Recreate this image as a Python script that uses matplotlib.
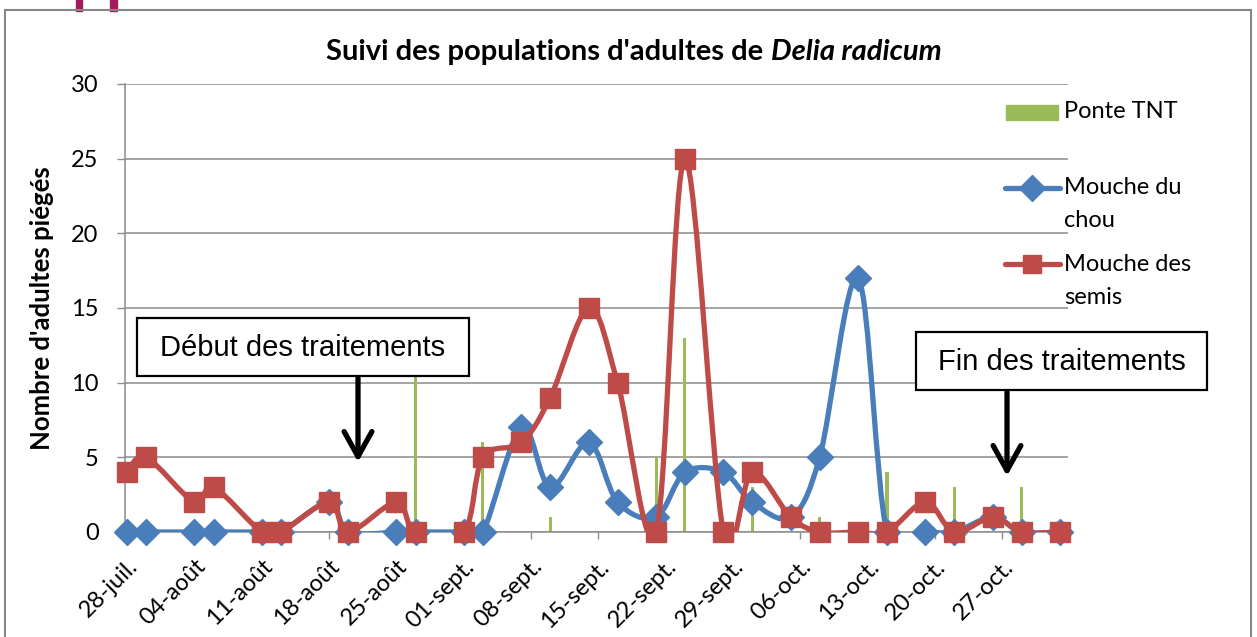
import datetime as dt
import numpy as np
import matplotlib
matplotlib.use("Agg")
import matplotlib.pyplot as plt
import matplotlib.dates as mdates
from matplotlib.path import Path
from matplotlib.patches import PathPatch, Rectangle
from matplotlib.lines import Line2D

W, H = 1257, 637

# relevés (dates de piégeage)
sample_dates = ["2014-07-28", "2014-07-30", "2014-08-04", "2014-08-06", "2014-08-11",
                "2014-08-13", "2014-08-18", "2014-08-20", "2014-08-25", "2014-08-27",
                "2014-09-01", "2014-09-03", "2014-09-07", "2014-09-10", "2014-09-14",
                "2014-09-17", "2014-09-21", "2014-09-24", "2014-09-28", "2014-10-01",
                "2014-10-05", "2014-10-08", "2014-10-12", "2014-10-15", "2014-10-19",
                "2014-10-22", "2014-10-26", "2014-10-29", "2014-11-02"]
mouche_chou = [0, 0, 0, 0, 0, 0, 2, 0, 0, 0, 0, 0, 7, 3, 6, 2, 1, 4, 4, 2,
               1, 5, 17, 0, 0, 0, 1, 0, 0]
mouche_semis = [4, 5, 2, 3, 0, 0, 2, 0, 2, 0, 0, 5, 6, 9, 15, 10, 0, 25, 0, 4,
                1, 0, 0, 0, 2, 0, 1, 0, 0]

ponte_dates = ["2014-08-27", "2014-09-03", "2014-09-10", "2014-09-21", "2014-09-24",
               "2014-10-01", "2014-10-08", "2014-10-15", "2014-10-22", "2014-10-29"]
ponte_tnt = [12, 6, 1, 5, 13, 3, 1, 4, 3, 3]

tick_labels = ["28-juil.", "04-août", "11-août", "18-août", "25-août", "01-sept.",
               "08-sept.", "15-sept.", "22-sept.", "29-sept.", "06-oct.", "13-oct.",
               "20-oct.", "27-oct."]

BLUE = "#4A7EBB"
RED = "#BE4B48"
GREEN = "#9BBB59"
GRID = "#8C8C8C"
FONT = "Lato"
BOXFONT = "Liberation Sans"
FS = 17


def fp(x, y):
    # pixel -> figure fraction
    return (x / W, 1 - y / H)


def smooth_path(x, y):
    # courbe lissée façon Excel (Bezier type Catmull-Rom)
    pts = np.column_stack([x, y]).astype(float)
    n = len(pts)
    verts = [pts[0]]
    codes = [Path.MOVETO]
    for i in range(n - 1):
        p0 = pts[max(i - 1, 0)]
        p1 = pts[i]
        p2 = pts[i + 1]
        p3 = pts[min(i + 2, n - 1)]
        verts += [p1 + (p2 - p0) / 6, p2 - (p3 - p1) / 6, p2]
        codes += [Path.CURVE4] * 3
    return Path(verts, codes)


xd = mdates.date2num([dt.date.fromisoformat(d) for d in sample_dates])
xp = mdates.date2num([dt.date.fromisoformat(d) for d in ponte_dates])
start = mdates.date2num(dt.date(2014, 7, 28))

fig = plt.figure(figsize=(W / 100, H / 100), dpi=100)
ax = fig.add_axes([125 / W, 1 - 532 / H, (1068 - 125) / W, (532 - 84) / H])

ppd = 9.62  # pixels par jour
x0 = start - 2 / ppd
ax.set_xlim(x0, x0 + (1068 - 125) / ppd)
ax.set_ylim(0, 30)

ax.bar(xp, ponte_tnt, width=0.32, color=GREEN, zorder=2)

ax.add_patch(PathPatch(smooth_path(xd, mouche_chou), fill=False, edgecolor=BLUE,
                       linewidth=3.8, capstyle="round", joinstyle="round",
                       zorder=3))
ax.plot(xd, mouche_chou, linestyle="none", marker="D", markersize=13.5,
        color=BLUE, zorder=4, clip_on=False)
ax.add_patch(PathPatch(smooth_path(xd, mouche_semis), fill=False, edgecolor=RED,
                       linewidth=3.8, capstyle="round", joinstyle="round",
                       zorder=5))
ax.plot(xd, mouche_semis, linestyle="none", marker="s", markersize=14.5,
        color=RED, zorder=6, clip_on=False)

ax.set_yticks(range(0, 31, 5))
ax.yaxis.grid(True, color=GRID, linewidth=1.1)
ax.set_axisbelow(True)
ax.set_xticks(start + 7 * np.arange(len(tick_labels)))
ax.set_xticklabels(tick_labels, rotation=45, ha="right", rotation_mode="anchor",
                   fontsize=FS, family=FONT)
for lab in ax.get_yticklabels():
    lab.set_fontsize(FS)
    lab.set_family(FONT)
ax.tick_params(axis="y", length=6, width=1, color=GRID, pad=13)
ax.tick_params(axis="x", length=5, width=1, color=GRID, pad=12)
for s in ("top", "right"):
    ax.spines[s].set_visible(False)
for s in ("left", "bottom"):
    ax.spines[s].set_color(GRID)
    ax.spines[s].set_linewidth(1.1)

ax.set_ylabel("Nombre d'adultes piégés", fontsize=18.5, fontweight="bold",
              family=FONT, labelpad=12)

# titre (partie en italique)
renderer = fig.canvas.get_renderer()
t1 = fig.text(0, 0, "Suivi des populations d'adultes de ", fontsize=21,
              fontweight="bold", family=FONT, va="baseline")
t2 = fig.text(0, 0, "Delia radicum", fontsize=21, fontweight="bold",
              style="italic", family=FONT, va="baseline")
w1 = t1.get_window_extent(renderer).width
w2 = t2.get_window_extent(renderer).width
xt = 634 - (w1 + w2) / 2
t1.set_position(fp(xt, 60))
t2.set_position(fp(xt + w1, 60))

# légende
fig.add_artist(Rectangle(fp(1006, 120), 52 / W, 15 / H, color=GREEN,
                         transform=fig.transFigure))
fig.add_artist(Line2D([1005 / W, 1060 / W], [fp(0, 188)[1]] * 2, color=BLUE,
                      linewidth=3.8, solid_capstyle="round",
                      transform=fig.transFigure))
fig.add_artist(Line2D([1032 / W], [fp(0, 188)[1]], marker="D", markersize=13.5,
                      color=BLUE, transform=fig.transFigure))
fig.add_artist(Line2D([1005 / W, 1060 / W], [fp(0, 264)[1]] * 2, color=RED,
                      linewidth=3.8, solid_capstyle="round",
                      transform=fig.transFigure))
fig.add_artist(Line2D([1032 / W], [fp(0, 264)[1]], marker="s", markersize=13.5,
                      color=RED, transform=fig.transFigure))
for txt, yy in [("Ponte TNT", 112), ("Mouche du", 188), ("chou", 221),
                ("Mouche des", 265), ("semis", 297)]:
    fig.text(*fp(1064, yy), txt, fontsize=FS, family=FONT, va="center")

# encadrés et flèches
for (bx0, by0, bx1, by1, label, ax_x, tip) in [
        (137, 318, 469, 376, "Début des traitements", 358, 462),
        (916, 332, 1207, 390, "Fin des traitements", 1007, 476)]:
    fig.add_artist(Rectangle(fp(bx0, by1), (bx1 - bx0) / W, (by1 - by0) / H,
                             facecolor="white", edgecolor="black", linewidth=1.6,
                             transform=fig.transFigure, zorder=10))
    fig.text(*fp((bx0 + bx1) / 2, (by0 + by1) / 2 + 1), label, fontsize=21,
             family=BOXFONT, ha="center", va="center", zorder=11)
    ax.annotate("", xy=fp(ax_x, tip), xytext=fp(ax_x, by1 + 2),
                xycoords="figure fraction", textcoords="figure fraction",
                arrowprops=dict(arrowstyle="->,head_length=0.9,head_width=0.5",
                                lw=3.8, color="black", mutation_scale=20,
                                shrinkA=0, shrinkB=0))

# cadre du graphique
for xs, ys in [([5, 5], [10, 640]), ([5, 1251], [10, 10]), ([1251, 1251], [10, 640])]:
    fig.add_artist(Line2D([x / W for x in xs], [1 - y / H for y in ys],
                          color="#868686", linewidth=1.5, transform=fig.transFigure))

# traits du titre de page coupé en haut
for xx, ww in ((76, 6), (110, 7)):
    fig.add_artist(Rectangle(fp(xx, 11), ww / W, 11 / H, color="#A3195B",
                             transform=fig.transFigure))

fig.savefig("out.png", dpi=100)
